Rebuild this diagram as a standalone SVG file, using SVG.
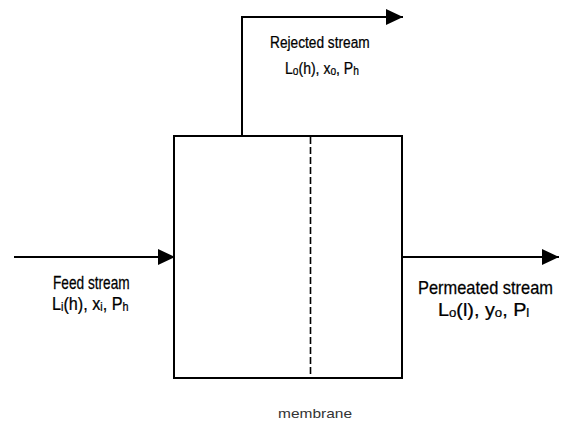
<svg xmlns="http://www.w3.org/2000/svg" width="561" height="429" viewBox="0 0 561 429">
  <style>
    .line { fill: none; stroke: #000; stroke-width: 2; }
    .lbl { font-family: "Liberation Sans Narrow", "Liberation Sans", Arial, sans-serif; fill: #000; stroke: #000; stroke-width: 0.25; }
    .sub { font-size: 12px; }
  </style>
  <defs>
    <marker id="arrow" viewBox="0 0 17 16" refX="17" refY="8" markerWidth="17" markerHeight="16" markerUnits="userSpaceOnUse" orient="auto">
      <path d="M0,0 L17,8 L0,16 Z" fill="#000"/>
    </marker>
  </defs>
  <rect width="561" height="429" fill="#fff"/>

  <!-- membrane module -->
  <g id="module">
    <rect x="174" y="136" width="228" height="242" class="line"/>
    <line x1="310.5" y1="137" x2="310.5" y2="377" stroke="#000" stroke-width="1.6" stroke-dasharray="7,3"/>
    <text x="315" y="418" font-family="'Liberation Sans', Arial, sans-serif" font-size="13" text-anchor="middle" textLength="74" lengthAdjust="spacingAndGlyphs" fill="#333">membrane</text>
  </g>

  <!-- streams -->
  <g id="connectors">
    <polyline points="242,136 242,17 403,17" class="line" marker-end="url(#arrow)"/>
    <line x1="14" y1="257" x2="175" y2="257" class="line" marker-end="url(#arrow)"/>
    <line x1="402" y1="257" x2="559" y2="257" class="line" marker-end="url(#arrow)"/>
  </g>

  <g id="rejected">
    <text class="lbl" transform="translate(270,48) scale(0.83,1)" font-size="16.5">Rejected stream</text>
    <text class="lbl" transform="translate(285,74) scale(0.85,1)" font-size="16.5">L<tspan class="sub" dy="1">o</tspan><tspan dy="-1">(h), x</tspan><tspan class="sub" dy="1">o</tspan><tspan dy="-1">, P</tspan><tspan class="sub" dy="1">h</tspan></text>
  </g>

  <g id="feed">
    <text class="lbl" transform="translate(53,289) scale(0.76,1)" font-size="18">Feed stream</text>
    <text class="lbl" transform="translate(52,310) scale(0.9,1)" font-size="18">L<tspan class="sub" dy="1">i</tspan><tspan dy="-1">(h), x</tspan><tspan class="sub" dy="1">i</tspan><tspan dy="-1">, P</tspan><tspan class="sub" dy="1">h</tspan></text>
  </g>

  <g id="permeated">
    <text class="lbl" transform="translate(418,294) scale(0.912,1)" font-size="18">Permeated stream</text>
    <text class="lbl" transform="translate(438,316) scale(1.1,1)" font-size="18">L<tspan class="sub" dy="1">o</tspan><tspan dy="-1">(l), y</tspan><tspan class="sub" dy="1">o</tspan><tspan dy="-1">, P</tspan><tspan class="sub" dy="1">l</tspan></text>
  </g>
</svg>
